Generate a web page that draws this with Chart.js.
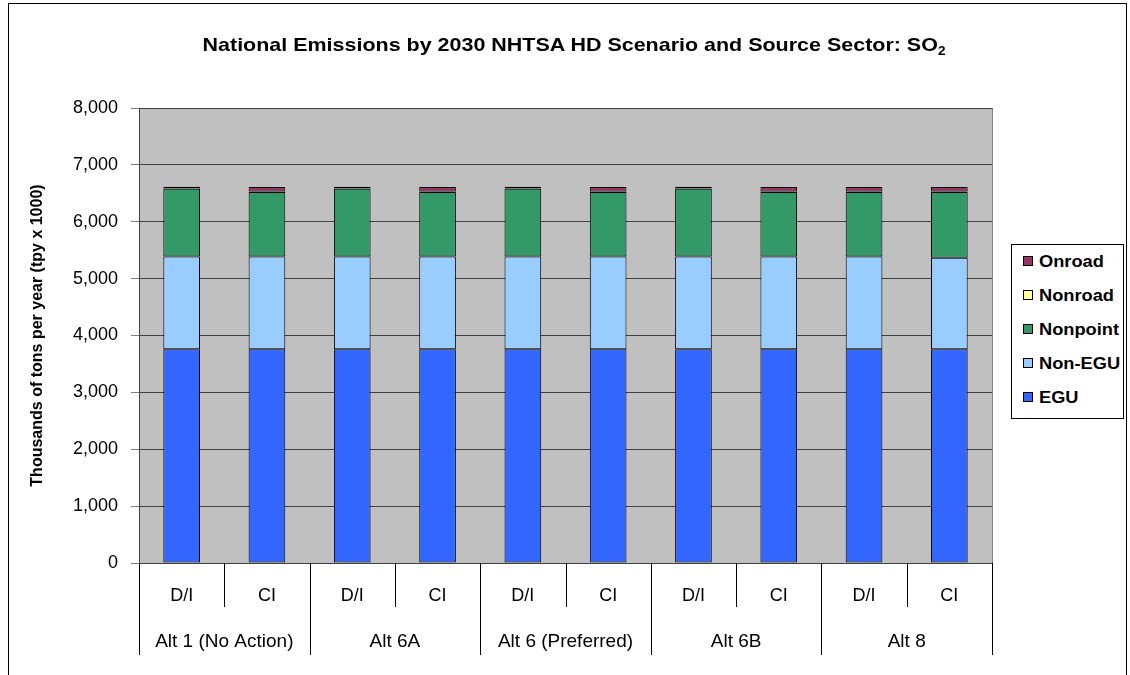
<!DOCTYPE html>
<html>
<head>
<meta charset="utf-8">
<script src="https://cdn.jsdelivr.net/npm/chart.js@4.4.1/dist/chart.umd.min.js"></script>
<style>
  html, body { margin: 0; padding: 0; background: #fff; overflow: hidden; }
  body { width: 1130px; height: 675px; position: relative; font-family: Arial, "Liberation Sans", sans-serif; }
  #frame { position: absolute; left: 8px; top: 3px; width: 1119px; height: 800px; border: 1px solid #000; box-sizing: border-box; }
  #wrap { position: absolute; left: 0; top: 0; width: 1130px; height: 675px; }
  #title { position: absolute; left: 0; width: 1148px; top: 34px; text-align: center; font-weight: bold; font-size: 19px; color: #000; transform: scaleX(1.13); transform-origin: 574px 0; white-space: nowrap; }
  #title sub { font-size: 12px; vertical-align: -4px; }
  #legend { position: absolute; left: 1011px; top: 244px; width: 113px; height: 175px; border: 1px solid #000; box-sizing: border-box; background: #fff; }
  .li { position: absolute; left: 11px; font-weight: bold; font-size: 16px; color: #000; line-height: 18px; white-space: nowrap; }
  .li span { display: inline-block; width: 8px; height: 8px; border: 1px solid #000; margin-right: 6px; vertical-align: 1px; }
  .li b { display: inline-block; transform: scaleX(1.14); transform-origin: 0 0; }
</style>
</head>
<body>
<div id="frame"></div>
<div id="wrap"><canvas id="c" width="1130" height="675"></canvas></div>
<div id="title">National Emissions by 2030 NHTSA HD Scenario and Source Sector: SO<sub>2</sub></div>
<div id="legend"></div>
<script>
// ── Dados (leitura do gráfico, mil toneladas/ano) ────────────────
const groups = ['Alt 1 (No Action)', 'Alt 6A', 'Alt 6 (Preferred)', 'Alt 6B', 'Alt 8'];
const subLabels = ['D/I', 'CI', 'D/I', 'CI', 'D/I', 'CI', 'D/I', 'CI', 'D/I', 'CI'];
const yTicks = [0, 1000, 2000, 3000, 4000, 5000, 6000, 7000, 8000];

const egu      = [3760, 3760, 3760, 3760, 3760, 3760, 3760, 3760, 3760, 3760];
const nonEgu   = [1630, 1630, 1630, 1630, 1630, 1630, 1630, 1630, 1630, 1605];
const nonpoint = [1190, 1135, 1190, 1135, 1190, 1135, 1190, 1135, 1135, 1160];
const nonroad  = [5, 5, 5, 5, 5, 5, 5, 5, 5, 5];
const onroad   = [30, 83, 30, 83, 30, 83, 30, 83, 83, 83];

const series = [
  { label: 'EGU',      data: egu,      color: '#3366ff' },
  { label: 'Non-EGU',  data: nonEgu,   color: '#99ccff' },
  { label: 'Nonpoint', data: nonpoint, color: '#339966' },
  { label: 'Nonroad',  data: nonroad,  color: '#ffff99' },
  { label: 'Onroad',   data: onroad,   color: '#993366' },
];

// ── Legenda HTML (ordem invertida, como no Excel) ────────────────
document.getElementById('legend').innerHTML = series.slice().reverse().map((s, i) =>
  `<div class="li" style="top:${8 + i * 34}px"><span style="background:${s.color}"></span><b>${s.label}</b></div>`
).join('');

// ── Fundo cinza da área de plotagem + divisórias do eixo X ───────
const plotBg = {
  id: 'plotBg',
  beforeDraw(chart) {
    const { ctx, chartArea: a } = chart;
    ctx.save();
    ctx.fillStyle = '#c0c0c0';
    ctx.fillRect(a.left, a.top, a.right - a.left, a.bottom - a.top);
    ctx.restore();
  },
  afterDraw(chart) {
    const { ctx, chartArea: a } = chart;
    const n = subLabels.length;
    const w = (a.right - a.left) / n;
    ctx.save();
    ctx.strokeStyle = '#000';
    ctx.lineWidth = 1;
    for (let i = 0; i <= n; i++) {
      const x = Math.round(a.left + i * w) + 0.5;
      ctx.beginPath();
      ctx.moveTo(x, a.bottom);
      ctx.lineTo(x, i % 2 === 0 ? a.bottom + 92 : a.bottom + 44);
      ctx.stroke();
    }
    ctx.strokeStyle = '#808080';
    ctx.beginPath();
    ctx.moveTo(a.right + 0.5, a.top);
    ctx.lineTo(a.right + 0.5, a.bottom);
    ctx.stroke();
    ctx.restore();
  }
};

const font = { family: 'Arial, "Liberation Sans", sans-serif', size: 18 };

new Chart(document.getElementById('c'), {
  type: 'bar',
  data: {
    labels: subLabels,
    datasets: series.map(s => ({
      label: s.label,
      data: s.data,
      backgroundColor: s.color,
      borderColor: '#000',
      borderWidth: 1,
      borderSkipped: false,
      barPercentage: 0.43,
      categoryPercentage: 1,
      xAxisID: 'x',
    }))
  },
  options: {
    responsive: false,
    animation: false,
    layout: { padding: { left: 10, top: 108, right: 138, bottom: 0 } },
    plugins: { legend: { display: false }, title: { display: false }, tooltip: { enabled: false } },
    scales: {
      x: {
        stacked: true,
        position: 'bottom',
        grid: { display: false },
        border: { display: false },
        ticks: { color: '#000', font, padding: 14, maxRotation: 0, autoSkip: false },
        afterFit: s => { s.height = 56; }
      },
      x2: {
        type: 'category',
        labels: groups,
        position: 'bottom',
        offset: true,
        grid: { display: false },
        border: { display: false },
        ticks: { color: '#000', font: { family: font.family, size: 19 }, padding: 3, maxRotation: 0, autoSkip: false },
        afterFit: s => { s.height = 56; }
      },
      y: {
        stacked: true,
        min: 0,
        max: 8000,
        afterBuildTicks: s => { s.ticks = yTicks.map(v => ({ value: v })); },
        ticks: { color: '#000', font, padding: 13, callback: v => v.toLocaleString('en-US') },
        grid: { color: '#404040', lineWidth: 1, tickLength: 8, tickColor: '#808080' },
        border: { color: '#404040' },
        title: {
          display: true,
          text: 'Thousands of tons per year (tpy x 1000)',
          color: '#000',
          font: { family: font.family, size: 16, weight: 'bold' },
          padding: { top: 18, bottom: 0 }
        },
        afterFit: s => { s.width = 129; }
      }
    }
  },
  plugins: [plotBg]
});
</script>
</body>
</html>
